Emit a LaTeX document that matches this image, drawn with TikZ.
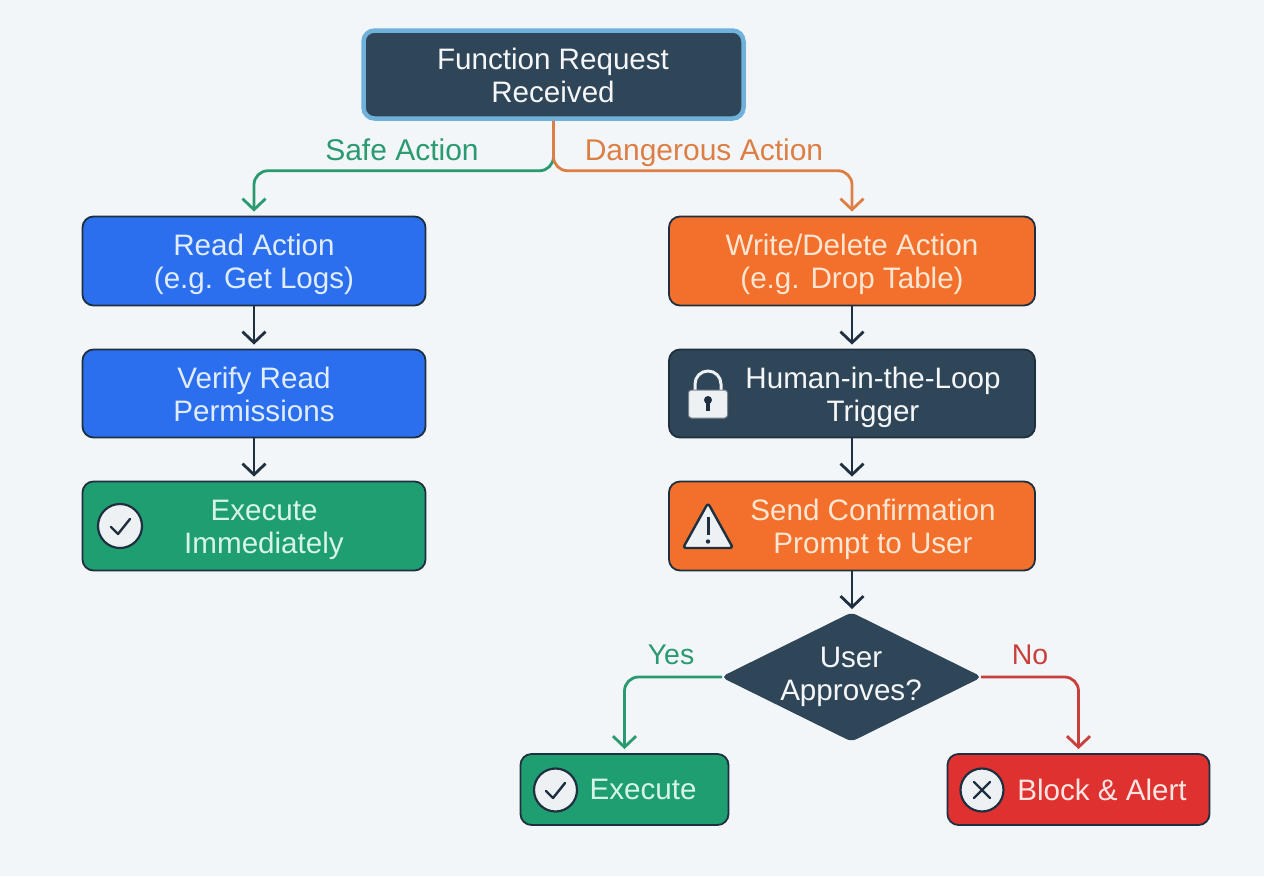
\documentclass[tikz,border=0pt]{standalone}
\usepackage{fontspec}
\setmainfont{Liberation Sans}
\usetikzlibrary{arrows.meta,shapes.geometric,calc}
\definecolor{bgc}{HTML}{F3F6F9}
\definecolor{darkc}{HTML}{2F4558}
\definecolor{edgec}{HTML}{1E3040}
\definecolor{bluec}{HTML}{2B6FEF}
\definecolor{orangec}{HTML}{F2702B}
\definecolor{greenc}{HTML}{1F9E72}
\definecolor{redc}{HTML}{DF3130}
\definecolor{glow}{HTML}{6FB1DA}
\definecolor{lgreen}{HTML}{2A9A70}
\definecolor{lorange}{HTML}{DD7F45}
\definecolor{lred}{HTML}{C8403C}
\definecolor{iconc}{HTML}{EDF1F4}
\definecolor{tblue}{HTML}{E0ECFF}
\definecolor{tgreen}{HTML}{D6F5E6}
\definecolor{torange}{HTML}{FFE6D2}
\definecolor{tred}{HTML}{FFE6E2}
\definecolor{tdark}{HTML}{F4F6F8}
\tikzset{
  x=1pt,y=-1pt,
  flowbox/.style={draw=edgec,line width=1.8pt,rounded corners=11pt,inner sep=0pt},
  label text/.style={inner sep=0pt,align=center,font=\fontsize{29.6}{33}\selectfont},
  edge label/.style={inner sep=0pt,anchor=base,font=\fontsize{30}{33}\selectfont},
  small label/.style={inner sep=0pt,anchor=base,font=\fontsize{28.5}{33}\selectfont},
  link/.style={line width=2.8pt,rounded corners=14pt,-{Straight Barb[length=11pt,width=23pt,line width=2.8pt]},shorten >=4pt},
  iconline/.style={draw=edgec,line width=2.4pt,line cap=round,line join=round},
}
\begin{document}
\begin{tikzpicture}
\useasboundingbox[fill=bgc] (0,0) rectangle (1264,876);
% boxes
\node[flowbox,draw=glow,line width=4.5pt,fill=darkc,minimum width=380pt,minimum height=88pt] (top) at (553.5,74.5) {};
\node[label text,text=tdark] (toptext) at (553,75) {Function Request\\Received};
\node[flowbox,fill=bluec,minimum width=343pt,minimum height=89pt] (read) at (254,261) {};
\node[label text,text=tblue] (readtext) at (254,264) {Read Action\\(e.g. Get Logs)};
\node[flowbox,fill=bluec,minimum width=343pt,minimum height=88pt] (verify) at (254,393.5) {};
\node[label text,text=tblue] (verifytext) at (254,394) {Verify Read\\Permissions};
\node[flowbox,fill=greenc,minimum width=343pt,minimum height=89pt] (exec) at (254,526) {};
\node[label text,text=tgreen] (exectext) at (264,530) {Execute\\Immediately};
\node[flowbox,fill=orangec,minimum width=366pt,minimum height=89pt] (write) at (852,261) {};
\node[label text,text=torange] (writetext) at (852,264) {Write/Delete Action\\(e.g. Drop Table)};
\node[flowbox,fill=darkc,minimum width=366pt,minimum height=88pt] (human) at (852,393.5) {};
\node[label text,text=tdark] (humantext) at (873,397) {Human-in-the-Loop\\Trigger};
\node[flowbox,fill=orangec,minimum width=366pt,minimum height=89pt] (send) at (852,526) {};
\node[label text,text=torange] (sendtext) at (873,529.5) {Send Confirmation\\Prompt to User};
\node[diamond,draw=darkc,line width=1pt,outer sep=0pt,fill=darkc,aspect=2.04,minimum width=259pt,minimum height=128pt,inner sep=0pt,rounded corners=5pt] (appr) at (851.5,677) {};
\node[label text,text=tdark] (apprtext) at (851,676.5) {User\\Approves?};
\node[flowbox,fill=greenc,minimum width=208pt,minimum height=71pt] (yes) at (624.5,789.5) {};
\node[label text,text=tgreen] (yestext) at (643,789.5) {Execute};
\node[flowbox,fill=redc,minimum width=262pt,minimum height=71pt] (no) at (1078.5,789.5) {};
\node[label text,text=tred] (notext) at (1102,789.5) {Block \& Alert};
% connectors
\draw[link,color=lgreen] (top.south) -- ++(0,50) -| (read.north);
\draw[link,color=lorange] (top.south) -- ++(0,50) -| (write.north);
\draw[link,color=edgec,rounded corners=0pt] (read) -- (verify);
\draw[link,color=edgec,rounded corners=0pt] (verify) -- (exec);
\draw[link,color=edgec,rounded corners=0pt] (write) -- (human);
\draw[link,color=edgec,rounded corners=0pt] (human) -- (send);
\draw[link,color=edgec,rounded corners=0pt] (send.south) -- (send.south |- appr.north);
\draw[link,color=lgreen] (appr.west) -| (yes.north);
\draw[link,color=lred] (appr.east) -| (no.north);
% edge labels
\node[edge label,text=lgreen] (safe) at (402,160) {Safe Action};
\node[edge label,text=lorange] (danger) at (704,160) {Dangerous Action};
\node[small label,text=lgreen] (yeslab) at (671,664) {Yes};
\node[small label,text=lred] (nolab) at (1030,664) {No};
% check icons
\node[circle,draw=edgec,line width=2.2pt,fill=iconc,minimum size=44pt,inner sep=0pt] (chk1) at (120,526) {};
\draw[iconline] (111,527) -- (118,534) -- (130,519);
\node[circle,draw=edgec,line width=2.2pt,fill=iconc,minimum size=43pt,inner sep=0pt] (chk2) at (555.5,790) {};
\draw[iconline] (546,791) -- (553,798) -- (565,783);
\node[circle,draw=edgec,line width=2.2pt,fill=iconc,minimum size=43pt,inner sep=0pt] (xic) at (982,790) {};
\draw[iconline] (974,782) -- (990,798) (990,782) -- (974,798);
% lock icon
\draw[draw=iconc,line width=3pt] (695,392) -- (695,384) arc[start angle=180,end angle=360,radius=13] -- (721,392);
\node[draw=edgec!60,line width=1pt,fill=iconc,rounded corners=3pt,minimum width=39pt,minimum height=28pt,inner sep=0pt] (lock) at (708,404) {};
\fill[edgec] (708,400) circle[radius=4];
\fill[edgec] (706.3,400) rectangle (709.7,411);
% warning icon
\draw[draw=edgec,line width=2.4pt,fill=iconc,line join=round,rounded corners=3pt] (708,503) -- (733,548) -- (683,548) -- cycle;
\draw[edgec,line width=3pt] (708,517) -- (708,535);
\fill[edgec] (708,541.5) circle[radius=2.2];
\end{tikzpicture}
\end{document}
